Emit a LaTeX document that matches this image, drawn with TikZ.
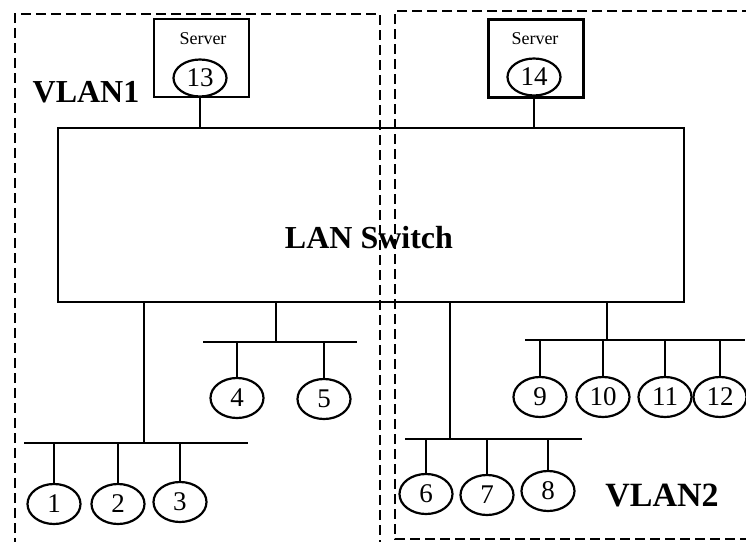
\documentclass[tikz,border=0pt]{standalone}
\usepackage{fontspec}
\setmainfont{Liberation Serif}
\usetikzlibrary{shapes.geometric}

\begin{document}
\begin{tikzpicture}[x=0.5pt, y=-0.5pt, line width=1.1pt,
    host/.style={draw, ellipse, minimum width=26.5pt, minimum height=20pt,
      inner sep=0pt, font=\fontsize{13.5}{13.5}\selectfont},
    srvbox/.style={draw, minimum width=47.5pt, minimum height=39pt, inner sep=0pt},
    vlan/.style={dashed, dash pattern=on 5pt off 2.5pt, line width=1.2pt},
    tag/.style={font=\fontsize{17}{17}\selectfont\bfseries}]
  \useasboundingbox (0,0) rectangle (746,542);
  % VLAN borders
  \draw[vlan] (15,548) -- (15,14) -- (380,14) -- (380,548);
  \draw[vlan] (752,11) -- (395,11) -- (395,539) -- (752,539);
  % switch
  \node[draw, minimum width=313pt, minimum height=87pt, inner sep=0pt] (sw) at (371,215) {};
  \node[tag, font=\fontsize{16}{16}\selectfont\bfseries] (swlabel) at (369,238) {LAN Switch};
  % servers
  \node[srvbox] (s13) at (201.5,58) {};
  \node[font=\fontsize{9}{9}\selectfont] (s13t) at (203,39) {Server};
  \node[host, minimum height=18.5pt] (n13) at (200,78) {13};
  \node[srvbox] (s14) at (536,58.5) {};
  \node[font=\fontsize{9}{9}\selectfont] (s14t) at (535,39) {Server};
  \node[host, minimum height=18.5pt] (n14) at (534,77) {14};
  \draw (n13.south) -- (n13.south |- sw.north);
  \draw (n14.south) -- (n14.south |- sw.north);
  % VLAN names
  \node[tag, font=\fontsize{16}{16}\selectfont\bfseries] (v1) at (86,92) {VLAN1};
  \node[tag] (v2) at (662,495) {VLAN2};
  % buses
  \coordinate (tapA) at (144,443);
  \coordinate (tapB) at (276,342);
  \coordinate (tapC) at (450,439);
  \coordinate (tapD) at (607,340);
  \draw (tapA |- sw.south) -- (tapA);
  \draw (tapB |- sw.south) -- (tapB);
  \draw (tapC |- sw.south) -- (tapC);
  \draw (tapD |- sw.south) -- (tapD);
  \draw (tapA -| 24,0) -- (tapA -| 248,0);
  \draw (tapB -| 203,0) -- (tapB -| 357,0);
  \draw (tapC -| 405,0) -- (tapC -| 582,0);
  \draw (tapD -| 525,0) -- (tapD -| 745,0);
  % hosts
  \foreach \n/\x/\y in {1/54/504, 2/118/504, 3/180/502, 4/237/398, 5/324/399,
      6/426/494, 7/487/495, 8/548/491, 9/540/397, 10/603/397, 11/665/397, 12/720/397}
    \node[host] (n\n) at (\x,\y) {\n};
  \foreach \n/\b in {1/A, 2/A, 3/A, 4/B, 5/B, 6/C, 7/C, 8/C, 9/D, 10/D, 11/D, 12/D}
    \draw (n\n.north) -- (n\n.north |- tap\b);
\end{tikzpicture}
\end{document}
